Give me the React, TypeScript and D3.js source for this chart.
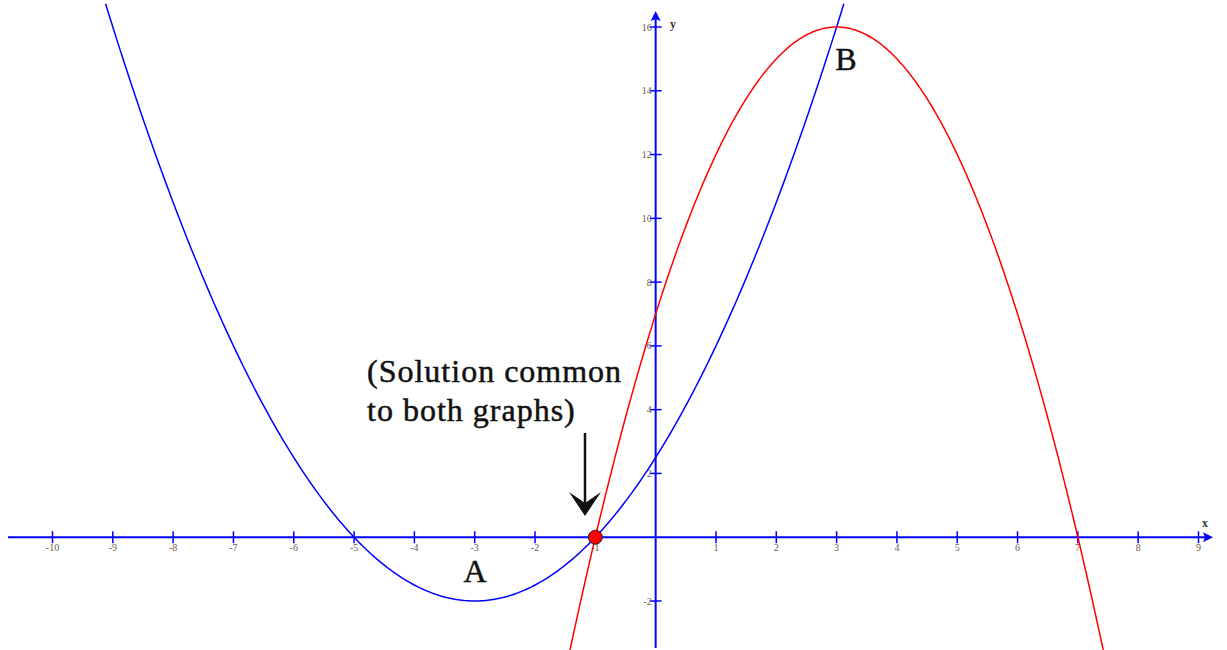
import React from "react";
import * as d3 from "d3";

const xTicks = [-10, -9, -8, -7, -6, -5, -4, -3, -2, -1, 1, 2, 3, 4, 5, 6, 7, 8, 9];
const yTicks = [-2, 2, 4, 6, 8, 10, 12, 14, 16];
// parabola A: y = a (x - h)^2 + k
const curveA = { a: 0.5, h: -3, k: -2, x0: -9.12, x1: 3.12 };
const curveB = { a: -1, h: 3, k: 16, x0: -1.42, x1: 7.42 };
const commonPoint = [-1, 0];

const W = 1227, H = 650;

export default function App() {
  const x = d3.scaleLinear().domain([-10, 9]).range([52.5, 1198.5]);
  const y = d3.scaleLinear().domain([-2, 16]).range([601, 27]);
  const f = (c: typeof curveA) => (t: number) => c.a * (t - c.h) ** 2 + c.k;
  const mk = (c: typeof curveA) => {
    const n = 400;
    const pts = d3.range(n + 1).map((i) => {
      const t = c.x0 + ((c.x1 - c.x0) * i) / n;
      return [t, f(c)(t)] as [number, number];
    });
    return d3.line<[number, number]>().x((d) => x(d[0])).y((d) => y(d[1]))(pts) || "";
  };
  const x0 = x(0), y0 = y(0);
  const axisColor = "#0000ff";
  const tickColor = "#6a5a4a";
  return (
    <svg width={W} height={H} style={{ position: "absolute", left: 0, top: 0, background: "#fff" }}>
      {/* x axis */}
      <line x1={8} x2={1206} y1={y0} y2={y0} stroke={axisColor} strokeWidth={2} />
      <path d={`M1213,${y0} L1203,${y0 - 5} L1205,${y0} L1203,${y0 + 5} Z`} fill={axisColor} />
      {xTicks.map((t) => (
        <g key={"xt" + t}>
          <line x1={x(t)} x2={x(t)} y1={y0 - 6} y2={y0 + 6} stroke={axisColor} strokeWidth={1.5} />
          <text x={x(t)} y={y0 + 14} fontFamily="Liberation Serif" fontSize={10} fill={tickColor} textAnchor="middle">{t}</text>
        </g>
      ))}
      <text x={1205} y={527} fontFamily="Liberation Serif" fontSize={12} fontWeight="bold" fill="#333" textAnchor="middle">x</text>
      {/* y axis */}
      <line x1={x0} x2={x0} y1={648} y2={19} stroke={axisColor} strokeWidth={2} />
      <path d={`M${x0},11 L${x0 - 5},21 L${x0},19 L${x0 + 5},21 Z`} fill={axisColor} />
      {yTicks.map((t) => (
        <g key={"yt" + t}>
          <line x1={x0 - 6} x2={x0 + 6} y1={y(t)} y2={y(t)} stroke={axisColor} strokeWidth={1.5} />
          <text x={x0 - 4} y={y(t) + 3.5} fontFamily="Liberation Serif" fontSize={10} fill={tickColor} textAnchor="end">{t}</text>
        </g>
      ))}
      <text x={673} y={28} fontFamily="Liberation Serif" fontSize={12} fontWeight="bold" fill="#333" textAnchor="middle">y</text>
      {/* curves */}
      <path d={mk(curveA)} fill="none" stroke="#0000ff" strokeWidth={1.5} />
      <path d={mk(curveB)} fill="none" stroke="#ff0000" strokeWidth={1.5} />
      <circle cx={x(commonPoint[0])} cy={y(commonPoint[1])} r={7} fill="#ff0000" stroke="#222" strokeWidth={1} />
      {/* labels */}
      <g stroke="#111" strokeWidth={0.5} fill="#111" fontFamily="Liberation Serif">
        <text x={475} y={582} fontSize={32} textAnchor="middle">A</text>
        <text x={846} y={70} fontSize={32} textAnchor="middle">B</text>
        <text fontSize={32} letterSpacing={1}>
          <tspan x={367} y={382}>(Solution common</tspan>
          <tspan x={367} y={421}>to both graphs)</tspan>
        </text>
      </g>
      {/* arrow */}
      <line x1={585} x2={585} y1={433} y2={505} stroke="#111" strokeWidth={2.5} />
      <path d="M569,492 L585,516 L601,492 L585,503 Z" fill="#111" />
    </svg>
  );
}
